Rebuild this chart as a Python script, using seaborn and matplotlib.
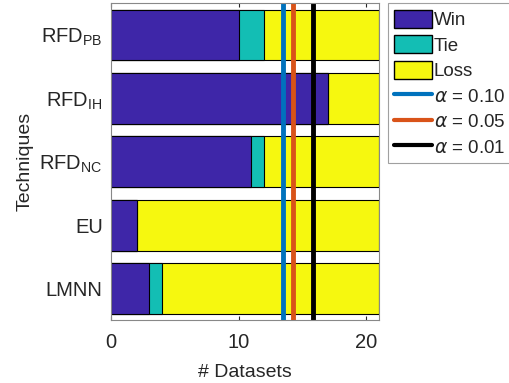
import numpy as np
import pandas as pd
import matplotlib
matplotlib.use('Agg')
import matplotlib.pyplot as plt
import seaborn as sns
from matplotlib.patches import Patch
from matplotlib.lines import Line2D

# data
techniques = [r'RFD$_\mathregular{PB}$', r'RFD$_\mathregular{IH}$', r'RFD$_\mathregular{NC}$', 'EU', 'LMNN']
wins = [10, 17, 11, 2, 3]
ties = [2, 0, 1, 0, 1]
losses = [9, 4, 9, 19, 17]
alpha_labels = [r'$\alpha$ = 0.10', r'$\alpha$ = 0.05', r'$\alpha$ = 0.01']
alpha_values = [13.44, 14.27, 15.83]

win_color = '#3E26A8'
tie_color = '#13BEB4'
loss_color = '#F6F80F'
line_colors = ['#0072BD', '#D95319', '#000000']

sns.set_style('white')
plt.rcParams['font.family'] = ['Liberation Sans', 'DejaVu Sans']

df = pd.DataFrame({'Technique': techniques, 'Win': wins, 'Tie': ties, 'Loss': losses})
df['WinTie'] = df['Win'] + df['Tie']
df['Total'] = df['WinTie'] + df['Loss']

fig = plt.figure(figsize=(5.09, 3.83), dpi=100)
ax = fig.add_axes([0.218, 0.164, 0.527, 0.827])

# stacked bars drawn as overlapping cumulative totals
sns.barplot(data=df, y='Technique', x='Total', color=loss_color, edgecolor='black',
            linewidth=0.8, width=0.8, saturation=1, orient='h', ax=ax)
sns.barplot(data=df, y='Technique', x='WinTie', color=tie_color, edgecolor='black',
            linewidth=0.8, width=0.8, saturation=1, orient='h', ax=ax)
sns.barplot(data=df, y='Technique', x='Win', color=win_color, edgecolor='black',
            linewidth=0.8, width=0.8, saturation=1, orient='h', ax=ax)
# hide edges of zero-width bars
for p in ax.patches:
    if p.get_width() == 0:
        p.set_visible(False)

for val, col in zip(alpha_values, line_colors):
    ax.axvline(val, color=col, linewidth=3.5)

ax.set_xlim(0, 21)
ax.set_ylim(4.5, -0.5)
ax.set_xticks([0, 10, 20])
ax.tick_params(axis='x', direction='in', top=True, bottom=True, length=3,
               labelsize=14.5, colors='#262626', pad=9)
ax.tick_params(axis='y', length=0, labelsize=14.5, colors='#262626', pad=6)
for s in ax.spines.values():
    s.set_color('#888888')
    s.set_linewidth(0.8)
ax.set_xlabel('# Datasets', fontsize=14, color='#262626', labelpad=9)
ax.set_ylabel('Techniques', fontsize=14, color='#262626', labelpad=4)

handles = [Patch(facecolor=win_color, edgecolor='black', label='Win'),
           Patch(facecolor=tie_color, edgecolor='black', label='Tie'),
           Patch(facecolor=loss_color, edgecolor='black', label='Loss')]
handles += [Line2D([0], [0], color=c, lw=3, label=l) for c, l in zip(line_colors, alpha_labels)]
leg = fig.legend(handles=handles, loc='upper left', bbox_to_anchor=(0.762, 0.992),
                 fontsize=13.5, frameon=True, fancybox=False, handlelength=2.0,
                 handleheight=1.1, handletextpad=0.1, labelspacing=0.33,
                 borderpad=0.35, borderaxespad=0)
leg.get_frame().set_edgecolor('#888888')
leg.get_frame().set_linewidth(0.8)

fig.savefig('out.png', dpi=100)
